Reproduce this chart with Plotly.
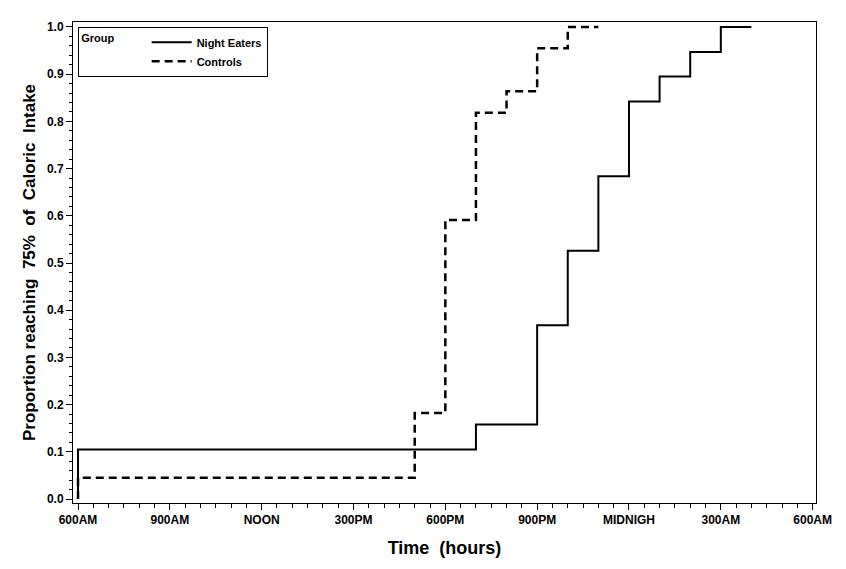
import plotly.graph_objects as go

# Time in hours since midnight (6 = 6AM, 24 = midnight, 30 = 6AM next day)
night_hours = [6, 6, 19, 21, 22, 23, 24, 25, 26, 27, 28]
night_prop = [0.0, 0.105, 0.158, 0.368, 0.526, 0.684, 0.842, 0.895, 0.947, 1.0, 1.0]

control_hours = [6, 6, 17, 18, 19, 20, 21, 22, 23]
control_prop = [0.0, 0.045, 0.182, 0.591, 0.818, 0.864, 0.955, 1.0, 1.0]

x_tickvals = [6, 9, 12, 15, 18, 21, 24, 27, 30]
x_ticktext = ["600AM", "900AM", "NOON", "300PM", "600PM", "900PM", "MIDNIGH", "300AM", "600AM"]
y_tickvals = [0.0, 0.1, 0.2, 0.3, 0.4, 0.5, 0.6, 0.7, 0.8, 0.9, 1.0]

FONT = "Liberation Sans, Arial, Helvetica, sans-serif"

fig = go.Figure()
fig.add_trace(go.Scatter(
    x=night_hours, y=night_prop, mode="lines", name="Night Eaters",
    line=dict(color="black", width=2, shape="hv"),
))
fig.add_trace(go.Scatter(
    x=control_hours, y=control_prop, mode="lines", name="Controls",
    line=dict(color="black", width=2.5, shape="hv", dash="8px,5px"),
))

# page body has an 8px default margin, so the figure is sized to fit the window
fig.update_layout(
    width=838, height=561,
    margin=dict(l=65, r=30, t=12, b=66),
    paper_bgcolor="white", plot_bgcolor="white",
    font=dict(family=FONT, color="black", weight="bold"),
    showlegend=True,
    legend=dict(
        x=0.007, y=0.99, xanchor="left", yanchor="top",
        bgcolor="white", bordercolor="black", borderwidth=1,
        font=dict(family=FONT, size=11, weight="bold"),
        title=dict(text="Group        ", side="left", font=dict(family=FONT, size=11, weight="bold")),
        itemwidth=40,
        tracegroupgap=0,
    ),
    xaxis=dict(
        range=[5.836, 30.11],
        tickmode="array", tickvals=x_tickvals, ticktext=x_ticktext,
        ticks="outside", ticklen=6, tickwidth=1, tickcolor="black",
        tickfont=dict(family=FONT, size=12, weight="bold"),
        showline=True, linecolor="black", linewidth=1, mirror=True,
        showgrid=False, zeroline=False,
        minor=dict(dtick=0.5, ticks="outside", ticklen=4, tickcolor="black", showgrid=False),
        title=dict(text="Time  (hours)", font=dict(family=FONT, size=18, weight="bold"), standoff=14),
    ),
    yaxis=dict(
        range=[-0.0084, 1.0105],
        tickmode="array", tickvals=y_tickvals, tickformat=".1f",
        ticks="outside", ticklen=6, tickwidth=1, tickcolor="black",
        tickfont=dict(family=FONT, size=12, weight="bold"),
        showline=True, linecolor="black", linewidth=1, mirror=True,
        showgrid=False, zeroline=False,
        minor=dict(dtick=0.02, tick0=0, ticks="outside", ticklen=3, tickcolor="black", showgrid=False),
        title=dict(text="Proportion reaching  75%  of  Caloric  Intake",
                   font=dict(family=FONT, size=17, weight="bold"), standoff=6),
    ),
)

fig.write_html("out.html")
